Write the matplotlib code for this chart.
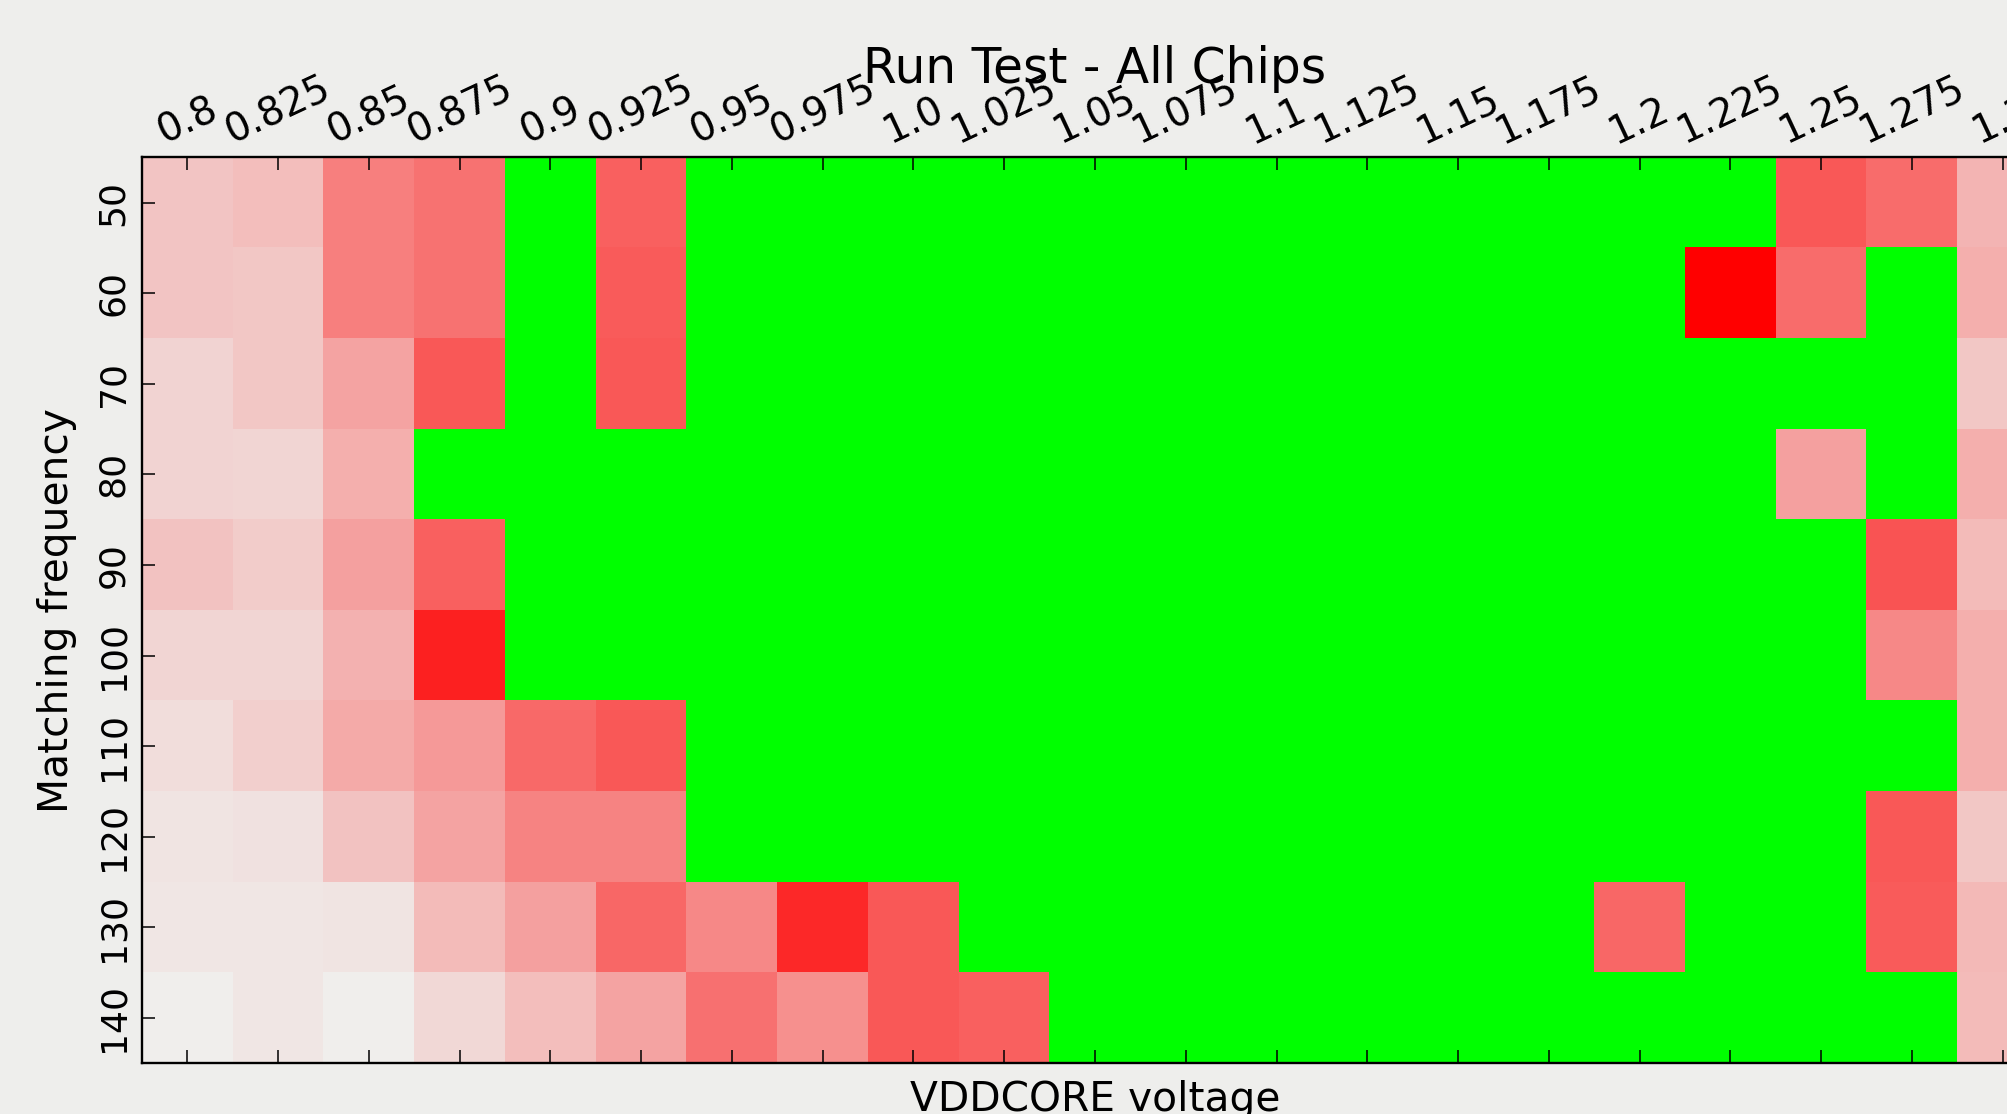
import numpy as np
import matplotlib as mpl
mpl.use('Agg')
import matplotlib.pyplot as plt
from matplotlib.colors import LinearSegmentedColormap

# VDDCORE voltage steps (columns) and matching frequencies (rows)
voltages = ['0.8', '0.825', '0.85', '0.875', '0.9', '0.925', '0.95', '0.975',
            '1.0', '1.025', '1.05', '1.075', '1.1', '1.125', '1.15', '1.175',
            '1.2', '1.225', '1.25', '1.275', '1.3']
freqs = [50, 60, 70, 80, 90, 100, 110, 120, 130, 140]

# failure fraction per cell, 0 = all chips pass (drawn green)
f50 = [0.18, 0.21, 0.47, 0.52, 0, 0.60, 0, 0, 0, 0, 0, 0, 0, 0, 0, 0, 0, 0, 0.63, 0.55, 0.25]
f60 = [0.18, 0.17, 0.47, 0.52, 0, 0.62, 0, 0, 0, 0, 0, 0, 0, 0, 0, 0, 0, 1.0, 0.55, 0, 0.27]
f70 = [0.12, 0.17, 0.32, 0.63, 0, 0.63, 0, 0, 0, 0, 0, 0, 0, 0, 0, 0, 0, 0, 0, 0, 0.17]
f80 = [0.12, 0.11, 0.27, 0, 0, 0, 0, 0, 0, 0, 0, 0, 0, 0, 0, 0, 0, 0, 0.33, 0, 0.27]
f90 = [0.19, 0.15, 0.33, 0.60, 0, 0, 0, 0, 0, 0, 0, 0, 0, 0, 0, 0, 0, 0, 0, 0.65, 0.22]
f100 = [0.11, 0.11, 0.26, 0.86, 0, 0, 0, 0, 0, 0, 0, 0, 0, 0, 0, 0, 0, 0, 0, 0.43, 0.27]
f110 = [0.08, 0.14, 0.29, 0.36, 0.56, 0.63, 0, 0, 0, 0, 0, 0, 0, 0, 0, 0, 0, 0, 0, 0, 0.27]
f120 = [0.05, 0.06, 0.19, 0.32, 0.45, 0.45, 0, 0, 0, 0, 0, 0, 0, 0, 0, 0, 0, 0, 0, 0.63, 0.17]
f130 = [0.04, 0.04, 0.05, 0.22, 0.33, 0.57, 0.43, 0.83, 0.63, 0, 0, 0, 0, 0, 0, 0, 0.57, 0, 0, 0.62, 0.23]
f140 = [0.01, 0.04, 0.01, 0.10, 0.21, 0.32, 0.53, 0.40, 0.63, 0.60, 0, 0, 0, 0, 0, 0, 0, 0, 0, 0, 0.22]

data = np.array([f50, f60, f70, f80, f90, f100, f110, f120, f130, f140])

bg = '#eeeeec'
cmap = LinearSegmentedColormap.from_list('fail', ['#f0f0ee', '#ff0000'])
cmap.set_under('#00ff00')

fig = plt.figure(figsize=(20.08, 11.14), dpi=100, facecolor=bg)
ax = fig.add_axes([142/2008, 51/1114, 1906/2008, 905.5/1114])
ax.imshow(data, cmap=cmap, vmin=1e-6, vmax=1, aspect='auto', interpolation='nearest')

ax.set_xticks(range(len(voltages)))
ax.set_xticklabels(voltages, rotation=25, fontsize=28)
ax.set_yticks(range(len(freqs)))
ax.set_yticklabels([str(v) for v in freqs], rotation=90, fontsize=26, va='center')

ax.tick_params(axis='x', direction='in', top=True, bottom=True, labeltop=True, labelbottom=False,
               length=9.7, width=1.1, pad=4.5)
ax.tick_params(axis='y', direction='in', left=True, right=True, length=9.7, width=1.1, pad=8.5)
for s in ax.spines.values():
    s.set_linewidth(1.7)

ax.set_xlabel('VDDCORE voltage', fontsize=29.3, labelpad=12.5)
ax.set_ylabel('Matching frequency', fontsize=29.3, labelpad=14)
ax.set_title('Run Test - All Chips', fontsize=35, y=1 + (157.5 - 83) / 905.5, pad=0)

plt.savefig('out.png', dpi=100, facecolor=bg)
